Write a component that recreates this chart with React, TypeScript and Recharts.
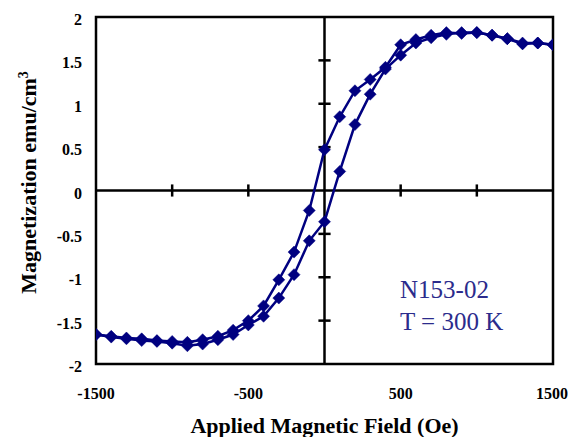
import { LineChart, Line, XAxis, YAxis, ReferenceLine, ReferenceArea, Label } from 'recharts';

// descending branch: field swept from +1500 Oe down to -1500 Oe
const descField = [1500, 1400, 1300, 1200, 1100, 1000, 900, 800, 700, 600, 500, 400, 300, 200, 100, 0,
  -100, -200, -300, -400, -500, -600, -700, -800, -900, -1000, -1100, -1200, -1300, -1400, -1500];
const descMoment = [1.68, 1.70, 1.69, 1.75, 1.79, 1.82, 1.81, 1.82, 1.79, 1.74, 1.68, 1.42, 1.28, 1.15, 0.85, 0.47,
  -0.23, -0.71, -1.03, -1.33, -1.50, -1.61, -1.68, -1.72, -1.75, -1.74, -1.73, -1.71, -1.70, -1.68, -1.66];

// ascending branch: field swept from -1500 Oe back up to +1500 Oe
const ascField = [-1500, -1400, -1300, -1200, -1100, -1000, -900, -800, -700, -600, -500, -400, -300, -200, -100, 0,
  100, 200, 300, 400, 500, 600, 700, 800, 900, 1000, 1100, 1200, 1300, 1400, 1500];
const ascMoment = [-1.66, -1.69, -1.71, -1.73, -1.74, -1.76, -1.79, -1.77, -1.72, -1.66, -1.55, -1.45, -1.24, -0.97, -0.58, -0.36,
  0.22, 0.76, 1.11, 1.40, 1.56, 1.70, 1.76, 1.80, 1.82, 1.82, 1.79, 1.75, 1.70, 1.70, 1.68];

const xLabelTicks = [-1500, -500, 500, 1500];
const xMarkTicks = [-1000, -500, 500, 1000];
const yTicks = [-2, -1.5, -1, -0.5, 0, 0.5, 1, 1.5, 2];
const yMarkTicks = [-1.5, -1, -0.5, 0.5, 1, 1.5];

const descending = descField.map((h, i) => ({ h, m: descMoment[i] }));
const ascending = ascField.map((h, i) => ({ h, m: ascMoment[i] }));

const NAVY = '#000080';
const serif = '"Liberation Serif", "Times New Roman", serif';

const Diamond = (props: any) => {
  const { cx, cy, index } = props;
  if (cx == null || cy == null) return <g key={index} />;
  const r = 6;
  return (
    <polygon
      key={index}
      points={`${cx},${cy - r} ${cx + r},${cy} ${cx},${cy + r} ${cx - r},${cy}`}
      fill={NAVY}
      stroke={NAVY}
      strokeWidth={0.5}
    />
  );
};

const XTick = (props: any) => {
  const { x, y, payload } = props;
  return (
    <text x={x} y={y + 35} textAnchor="middle" fill="#000" fontSize={16} fontWeight={700} fontFamily={serif}>
      {payload.value}
    </text>
  );
};

const YTick = (props: any) => {
  const { x, y, payload } = props;
  return (
    <text x={x - 14} y={y + 8} textAnchor="end" fill="#000" fontSize={16} fontWeight={700} fontFamily={serif}>
      {String(payload.value)}
    </text>
  );
};

export default function App() {
  return (
    <div style={{ position: 'absolute', left: 0, top: 0, width: 568, height: 437, background: '#fff' }}>
      <LineChart width={568} height={437} margin={{ top: 17, right: 15, bottom: 0, left: 0 }}>
        <XAxis
          type="number"
          dataKey="h"
          domain={[-1500, 1500]}
          ticks={xLabelTicks}
          axisLine={false}
          tickLine={false}
          tickSize={0}
          tickMargin={0}
          height={73}
          tick={XTick}
          allowDataOverflow
        >
          <Label
            value="Applied Magnetic Field (Oe)"
            position="insideBottom"
            offset={4}
            style={{ fill: '#000', fontSize: 22, fontWeight: 700, fontFamily: serif }}
          />
        </XAxis>
        <YAxis
          type="number"
          dataKey="m"
          domain={[-2, 2]}
          ticks={yTicks}
          axisLine={false}
          tickLine={false}
          tickSize={0}
          tickMargin={0}
          width={96}
          tick={YTick}
          allowDataOverflow
        >
          <Label
            content={(p: any) => {
              const vb = p.viewBox || { x: 0, y: 17, height: 347 };
              const tx = vb.x + 36;
              const ty = vb.y + vb.height / 2 - 8;
              return (
                <text
                  transform={`translate(${tx},${ty}) rotate(-90)`}
                  textAnchor="middle"
                  fill="#000"
                  fontSize={22}
                  fontWeight={700}
                  fontFamily={serif}
                >
                  Magnetization emu/cm<tspan dy={-8} fontSize={14}>3</tspan>
                </text>
              );
            }}
          />
        </YAxis>

        <ReferenceArea x1={-1500} x2={1500} y1={-2} y2={2} fill="none" stroke="#000" strokeWidth={2.5} fillOpacity={0} />
        <ReferenceLine x={0} stroke="#000" strokeWidth={2.5} />
        <ReferenceLine y={0} stroke="#000" strokeWidth={2.5} />
        {xMarkTicks.map((t) => (
          <ReferenceLine key={`xm${t}`} segment={[{ x: t, y: -0.07 }, { x: t, y: 0.07 }]} stroke="#000" strokeWidth={2.5} />
        ))}
        {yMarkTicks.map((t) => (
          <ReferenceLine key={`ym${t}`} segment={[{ x: -40, y: t }, { x: 40, y: t }]} stroke="#000" strokeWidth={2.5} />
        ))}

        <Line data={descending} dataKey="m" type="linear" stroke={NAVY} strokeWidth={2.5} dot={Diamond} activeDot={false} isAnimationActive={false} />
        <Line data={ascending} dataKey="m" type="linear" stroke={NAVY} strokeWidth={2.5} dot={Diamond} activeDot={false} isAnimationActive={false} />
      </LineChart>
      <div style={{ position: 'absolute', left: 400, top: 277, fontFamily: serif, fontSize: 25, lineHeight: '25px', color: '#2b2b8c', whiteSpace: 'nowrap' }}>
        N153-02
      </div>
      <div style={{ position: 'absolute', left: 400, top: 309, fontFamily: serif, fontSize: 25, lineHeight: '25px', color: '#2b2b8c', whiteSpace: 'nowrap' }}>
        T = 300 K
      </div>
    </div>
  );
}
